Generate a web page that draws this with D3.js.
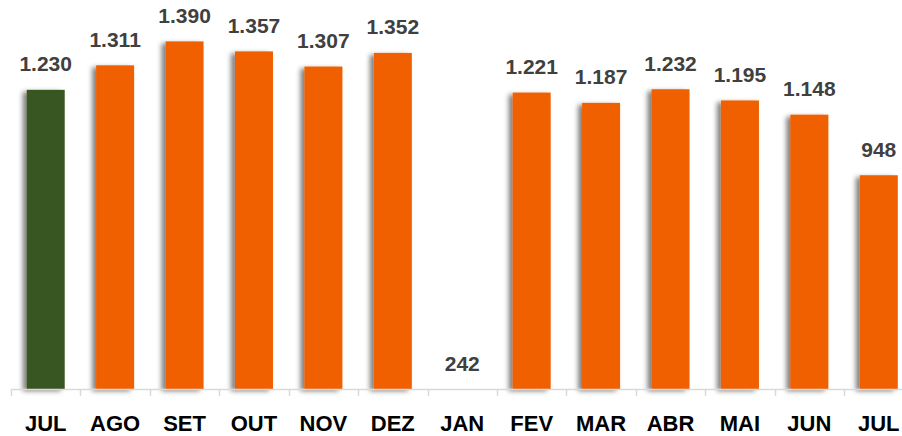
<!DOCTYPE html>
<html>
<head>
<meta charset="utf-8">
<script src="https://cdn.jsdelivr.net/npm/d3@7"></script>
<style>
  html, body { margin: 0; padding: 0; background: #fff; overflow: hidden; }
  svg { display: block; }
</style>
</head>
<body>
<svg id="chart" width="902" height="436"></svg>
<script>
const categories = ["JUL", "AGO", "SET", "OUT", "NOV", "DEZ", "JAN", "FEV", "MAR", "ABR", "MAI", "JUN", "JUL"];
const values = [1230, 1311, 1390, 1357, 1307, 1352, 242, 1221, 1187, 1232, 1195, 1148, 948];
const valueLabels = ["1.230", "1.311", "1.390", "1.357", "1.307", "1.352", "242", "1.221", "1.187", "1.232", "1.195", "1.148", "948"];
const barColors = ["#375623", "#F06000", "#F06000", "#F06000", "#F06000", "#F06000", "#F06000", "#F06000", "#F06000", "#F06000", "#F06000", "#F06000", "#F06000"];

const svg = d3.select("#chart");
const x0 = 11, x1 = 913.5, baseY = 389, topY = 9;

const defs = svg.append("defs");
const f = defs.append("filter").attr("id", "shadow")
  .attr("x", "-40%").attr("y", "-10%").attr("width", "160%").attr("height", "120%");
f.append("feGaussianBlur").attr("in", "SourceAlpha").attr("stdDeviation", 2.5).attr("result", "blur");
f.append("feOffset").attr("in", "blur").attr("dx", -4).attr("dy", 2).attr("result", "off");
f.append("feComponentTransfer").attr("in", "off").attr("result", "sh")
  .append("feFuncA").attr("type", "linear").attr("slope", 0.5);
const fm = f.append("feMerge");
fm.append("feMergeNode").attr("in", "sh");
fm.append("feMergeNode").attr("in", "SourceGraphic");

const idx = d3.range(categories.length);
const x = d3.scaleBand().domain(idx).range([x0, x1]).paddingInner(0.4526).paddingOuter(0.2263);
const y = d3.scaleLinear().domain([242, 1497]).range([baseY, topY]);

// bars
svg.append("g").selectAll("rect").data(idx.filter(i => baseY - y(values[i]) > 0.5)).join("rect")
  .attr("x", i => x(i))
  .attr("y", i => y(values[i]))
  .attr("width", x.bandwidth())
  .attr("height", i => baseY - y(values[i]))
  .attr("fill", i => barColors[i])
  .attr("filter", "url(#shadow)");

// axis
const step = x.step();
const axisG = svg.append("g");
axisG.append("line").attr("x1", x0).attr("x2", x1).attr("y1", baseY + 0.5).attr("y2", baseY + 0.5)
  .attr("stroke", "#d9d9d9").attr("stroke-width", 1.5);
axisG.selectAll("line.tick").data(d3.range(categories.length + 1)).join("line")
  .attr("class", "tick")
  .attr("x1", i => Math.round(x0 + i * step) + 0.5)
  .attr("x2", i => Math.round(x0 + i * step) + 0.5)
  .attr("y1", baseY).attr("y2", baseY + 7)
  .attr("stroke", "#d9d9d9").attr("stroke-width", 1.5);

// category labels
svg.append("g").selectAll("text").data(idx).join("text")
  .attr("x", i => x(i) + x.bandwidth() / 2)
  .attr("y", 431)
  .attr("text-anchor", "middle")
  .attr("font-family", "'Liberation Sans', Arial, sans-serif")
  .attr("font-weight", "bold")
  .attr("font-size", 22)
  .attr("fill", "#000")
  .text(i => categories[i]);

// value labels
svg.append("g").selectAll("text").data(idx).join("text")
  .attr("x", i => x(i) + x.bandwidth() / 2)
  .attr("y", i => y(values[i]) - 18.5)
  .attr("text-anchor", "middle")
  .attr("font-family", "'Liberation Sans', Arial, sans-serif")
  .attr("font-weight", "bold")
  .attr("font-size", 21)
  .attr("fill", "#404040")
  .text(i => valueLabels[i]);
</script>
</body>
</html>
